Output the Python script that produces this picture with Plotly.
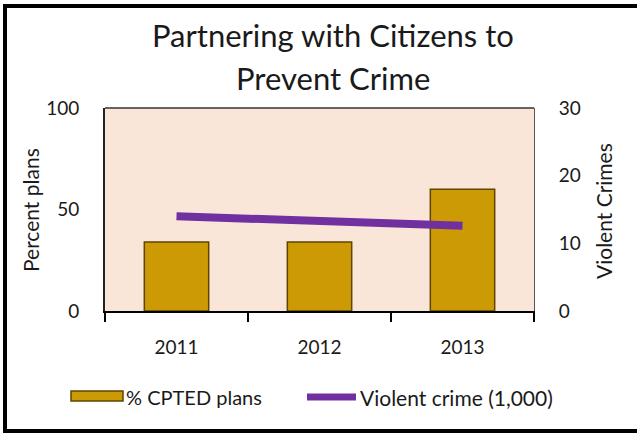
import plotly.graph_objects as go

years = ["2011", "2012", "2013"]
cpted_pct = [34, 34, 60]
violent_crime = [14.0, 13.3, 12.6]
left_ticks = [0, 50, 100]
right_ticks = [0, 10, 20, 30]

W, H = 637, 433
ML, MR, MT, MB = 105, 103, 108, 122
PW, PH = W - ML - MR, H - MT - MB

def px(x):
    return (x - ML) / PW

def py(y):
    return (H - MB - y) / PH

FONT = "Lato"
TXT = "#1a1a1a"

fig = go.Figure()
fig.add_trace(go.Bar(
    x=years, y=cpted_pct, name="% CPTED plans",
    marker=dict(color="#CC9A04", line=dict(color="#5E4600", width=1.5)),
    width=0.45, showlegend=False,
))
fig.add_trace(go.Scatter(
    x=years, y=violent_crime, name="Violent crime (1,000)", yaxis="y2",
    mode="lines", line=dict(color="#7030A0", width=8), showlegend=False,
))

fig.update_layout(
    width=W, height=H,
    margin=dict(l=ML, r=MR, t=MT, b=MB),
    paper_bgcolor="white",
    plot_bgcolor="#FAE5D9",
    font=dict(family=FONT, color=TXT, size=18),
    xaxis=dict(
        type="category", showgrid=False, showline=True, linecolor="black", linewidth=2,
        ticks="outside", tickson="boundaries", ticklen=9, tickwidth=2, tickcolor="black",
        tickfont=dict(size=19), ticklabelstandoff=18,
    ),
    yaxis=dict(
        range=[0, 100], tickvals=left_ticks, showgrid=False, zeroline=False,
        showline=True, linecolor="#222", linewidth=2, mirror=False,
        ticks="", tickfont=dict(size=19), ticklabelstandoff=20,
    ),
    yaxis2=dict(
        range=[0, 30], tickvals=right_ticks, overlaying="y", side="right",
        showgrid=False, zeroline=False, showline=True, linecolor="#555", linewidth=1,
        ticks="", tickfont=dict(size=19), ticklabelstandoff=20,
    ),
    showlegend=False,
)

shapes = []
shapes.append(dict(type="line", xref="paper", yref="paper", x0=0, x1=1, y0=1, y1=1,
                   line=dict(color="#333", width=1.5)))
shapes.append(dict(type="rect", xref="paper", yref="paper",
                   x0=px(5), x1=px(640), y0=py(431), y1=py(6),
                   line=dict(color="black", width=4), layer="above"))
shapes.append(dict(type="rect", xref="paper", yref="paper",
                   x0=px(71), x1=px(123), y0=py(401), y1=py(391),
                   fillcolor="#CC9A04", line=dict(color="#5E4600", width=1.5)))
shapes.append(dict(type="line", xref="paper", yref="paper",
                   x0=px(307), x1=px(356), y0=py(397), y1=py(397),
                   line=dict(color="#7030A0", width=7)))
fig.update_layout(shapes=shapes)

annotations = []
for text, y in [("Partnering with Citizens to", 35), ("Prevent Crime", 78)]:
    annotations.append(dict(text=text, x=px(333), y=py(y), xref="paper", yref="paper",
                            showarrow=False, xanchor="center", yanchor="middle",
                            font=dict(size=31, family=FONT, color=TXT)))
annotations.append(dict(text="Percent plans", x=px(30), y=py(210), xref="paper", yref="paper",
                        showarrow=False, textangle=-90, xanchor="center", yanchor="middle",
                        font=dict(size=21, family=FONT, color=TXT)))
annotations.append(dict(text="Violent Crimes", x=px(603), y=py(211), xref="paper", yref="paper",
                        showarrow=False, textangle=-90, xanchor="center", yanchor="middle",
                        font=dict(size=21, family=FONT, color=TXT)))
annotations.append(dict(text="% CPTED plans", x=px(124), y=py(397), xref="paper", yref="paper",
                        showarrow=False, xanchor="left", yanchor="middle",
                        font=dict(size=20, family=FONT, color=TXT)))
annotations.append(dict(text="Violent crime (1,000)", x=px(358), y=py(397), xref="paper", yref="paper",
                        showarrow=False, xanchor="left", yanchor="middle",
                        font=dict(size=21, family=FONT, color=TXT)))
fig.update_layout(annotations=annotations)

fig.write_html("out.html")
